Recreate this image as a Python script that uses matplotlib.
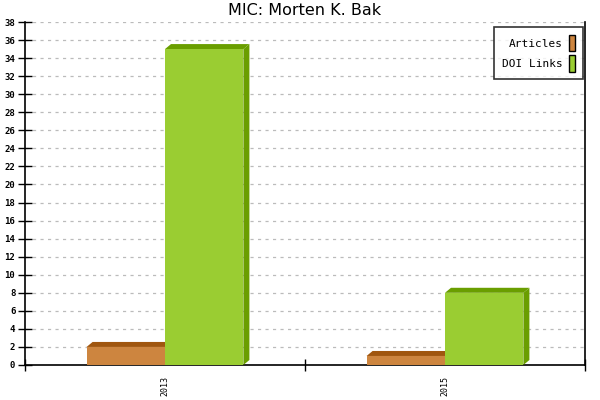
import matplotlib
matplotlib.use('Agg')
from matplotlib import pyplot as plt
from matplotlib.patches import Polygon, Rectangle

years = ['2013', '2015']
articles = [2, 1]
doi_links = [35, 8]

series = [('Articles', articles, '#CD853F', '#A0560F'),
          ('DOI Links', doi_links, '#9ACD32', '#6A9E00')]

mono = 'DejaVu Sans Mono'

fig = plt.figure(figsize=(6, 4), dpi=100)
ax = fig.add_axes([25/600, 35/400, 560/600, 343/400])
ax.set_xlim(-0.5, len(years) - 0.5)
ax.set_ylim(0, 38)

width = 0.28
dx = 6 / 280
dy = 5 * 38 / 343

handles = []
for k, (name, vals, front, dark) in enumerate(series):
    for i, v in enumerate(vals):
        x0 = i - width + k * width
        x1 = x0 + width
        ax.add_patch(Polygon([(x0, v), (x0 + dx, v + dy), (x1 + dx, v + dy), (x1, v)],
                             closed=True, facecolor=dark, edgecolor='none', zorder=3))
        ax.add_patch(Polygon([(x1, 0), (x1 + dx, dy), (x1 + dx, v + dy), (x1, v)],
                             closed=True, facecolor=dark, edgecolor='none', zorder=3))
        ax.add_patch(Rectangle((x0, 0), width, v, facecolor=front, edgecolor='none', zorder=4))
    handles.append(Rectangle((0, 0), 1, 1, facecolor=front, edgecolor='black', linewidth=1, label=name))

ax.set_yticks(range(0, 39, 2))
ax.set_yticklabels([str(t) for t in range(0, 39, 2)], fontfamily=mono, fontsize=6.5, fontweight='bold')
ax.yaxis.grid(True, linestyle=(0, (2.5, 3.5)), color='#BBBBBB', linewidth=0.9)
ax.set_axisbelow(True)
ax.tick_params(axis='y', direction='inout', length=10, width=1, pad=2)

ax.set_xticks([-0.5, 0.5, 1.5])
ax.set_xticklabels([])
ax.set_xticks(range(len(years)), minor=True)
ax.set_xticklabels(years, minor=True, rotation=90, fontfamily=mono, fontsize=6)
ax.tick_params(axis='x', which='major', direction='inout', length=8, width=1)
ax.tick_params(axis='x', which='minor', length=0, pad=8)

ax.spines['top'].set_visible(False)
for s in ['left', 'bottom', 'right']:
    ax.spines[s].set_linewidth(1.2)

ax.set_title('MIC: Morten K. Bak', fontsize=11.5, pad=5)

leg = ax.legend(handles=handles, loc='upper right', markerfirst=False, prop={'family': mono, 'size': 8},
                frameon=True, fancybox=False, edgecolor='black', handlelength=0.6, handleheight=1.9,
                handletextpad=0.5, borderpad=0.7, labelspacing=0.35, borderaxespad=0,
                bbox_to_anchor=(558/560, 338/343))
leg.get_frame().set_linewidth(1.2)

plt.savefig('out.png', dpi=100)
